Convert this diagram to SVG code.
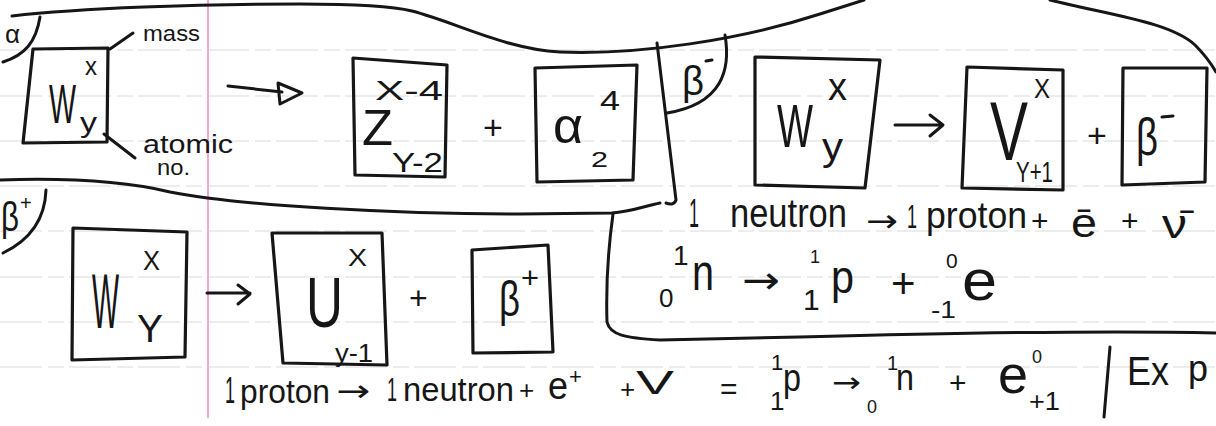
<svg xmlns="http://www.w3.org/2000/svg" width="1216" height="426" viewBox="0 0 1216 426">
<style>
.ink{fill:none;stroke:#161616;stroke-width:3;stroke-linecap:round;stroke-linejoin:round}
.box{fill:none;stroke:#161616;stroke-width:3.2;stroke-linejoin:round}
.t{font-family:"Liberation Sans",Arial,sans-serif;fill:#161616}
.a{font-family:"DejaVu Sans",sans-serif;fill:#161616}
.rule{stroke:#dadada;stroke-width:1;stroke-dasharray:42 6 16 5}
.margin{stroke:#f2a9cf;stroke-width:2}
</style>
<rect width="1216" height="426" fill="#ffffff"/>
<g id="paper">
<line class="rule" x1="0" y1="50" x2="1216" y2="50"/>
<line class="rule" x1="0" y1="96" x2="1216" y2="96"/>
<line class="rule" x1="0" y1="141" x2="1216" y2="141"/>
<line class="rule" x1="0" y1="186" x2="1216" y2="186"/>
<line class="rule" x1="0" y1="231" x2="1216" y2="231"/>
<line class="rule" x1="0" y1="277" x2="1216" y2="277"/>
<line class="rule" x1="0" y1="322" x2="1216" y2="322"/>
<line class="rule" x1="0" y1="367" x2="1216" y2="367"/>
<line class="margin" x1="208" y1="0" x2="208" y2="418"/>
</g>
<g id="dividers">
<path class="ink" d="M12,16 C80,8 200,4 300,4 C360,4 392,6 412,11 C455,22 505,49 560,52 C640,55 740,40 820,14 L864,0"/>
<path class="ink" d="M1050,0 C1110,15 1170,22 1195,45 Q1208,58 1216,72"/>
<path class="ink" d="M0,180 C60,178 120,180 170,192 C240,206 400,214 520,214 L612,213 C630,212 645,206 660,203"/>
<path class="ink" d="M657,43 L676,200 Q674,206 666,203"/>
<path class="ink" d="M613,214 C608,250 606,290 607,322 C610,335 625,338 660,340 L800,337 C950,333 1100,330 1216,333"/>
<path class="ink" d="M1110,347 L1104,417"/>
</g>
<g id="connectors">
<path class="ink" d="M228,86 L282,92"/>
<path class="ink" d="M278,83 L302,93 L280,104 Z"/>
<path class="ink" d="M895,125 L942,125 M930,115 L943,125 L930,136"/>
<path class="ink" d="M207,293 L250,293 M238,285 L250,294 L238,304"/>
</g>
<g id="alpha-label">
<text class="t" x="5" y="43" font-size="26">α</text>
<path class="ink" d="M40,17 C36,42 25,55 3,62"/>
</g>
<g id="box-W-alpha">
<polygon class="box" points="33,49 108,48 107,142 23,143"/>
<text class="t" x="49" y="123" font-size="56" textLength="27" lengthAdjust="spacingAndGlyphs">W</text>
<text class="t" x="85" y="75" font-size="25" textLength="12" lengthAdjust="spacingAndGlyphs">x</text>
<text class="t" x="80" y="132" font-size="28" textLength="17" lengthAdjust="spacingAndGlyphs">y</text>
<path class="ink" d="M110,49 L133,33 M104,134 L135,158"/>
<text class="t" x="143" y="41" font-size="22" textLength="57" lengthAdjust="spacingAndGlyphs">mass</text>
<text class="t" x="143" y="153" font-size="25" textLength="90" lengthAdjust="spacingAndGlyphs">atomic</text>
<text class="t" x="157" y="175" font-size="22" textLength="33" lengthAdjust="spacingAndGlyphs">no.</text>
</g>
<g id="box-Z">
<polygon class="box" points="353,58 447,65 445,177 355,175"/>
<text class="t" x="362" y="145" font-size="50" textLength="31" lengthAdjust="spacingAndGlyphs">Z</text>
<text class="t" x="375" y="100" font-size="27" textLength="68" lengthAdjust="spacingAndGlyphs">X-4</text>
<text class="t" x="392" y="172" font-size="28" textLength="51" lengthAdjust="spacingAndGlyphs">Y-2</text>
</g>
<text class="t" x="483" y="139" font-size="34">+</text>
<g id="box-alpha">
<polygon class="box" points="535,68 637,65 633,180 537,182"/>
<text class="t" x="553" y="143" font-size="50" textLength="30" lengthAdjust="spacingAndGlyphs">α</text>
<text class="t" x="600" y="110" font-size="28" textLength="20" lengthAdjust="spacingAndGlyphs">4</text>
<text class="t" x="591" y="167" font-size="22" textLength="17" lengthAdjust="spacingAndGlyphs">2</text>
</g>
<g id="beta-minus-label">
<path class="ink" d="M725,35 C731,70 722,104 667,113"/>
<text class="t" x="682" y="95" font-size="40" textLength="22" lengthAdjust="spacingAndGlyphs">β</text>
<path class="ink" d="M706,61 L712,60"/>
</g>
<g id="box-W-betaminus">
<polygon class="box" points="755,57 880,60 865,188 755,185"/>
<text class="t" x="777" y="147" font-size="62" textLength="36" lengthAdjust="spacingAndGlyphs">W</text>
<text class="t" x="828" y="100" font-size="38" textLength="19" lengthAdjust="spacingAndGlyphs">x</text>
<text class="t" x="822" y="160" font-size="38" textLength="21" lengthAdjust="spacingAndGlyphs">y</text>
</g>
<g id="box-V">
<polygon class="box" points="967,67 1063,70 1063,190 962,188"/>
<text class="t" x="990" y="160" font-size="84" textLength="38" lengthAdjust="spacingAndGlyphs">V</text>
<text class="t" x="1034" y="98" font-size="28" textLength="16" lengthAdjust="spacingAndGlyphs">X</text>
<text class="t" x="1016" y="182" font-size="30" textLength="37" lengthAdjust="spacingAndGlyphs">Y+1</text>
</g>
<text class="t" x="1087" y="147" font-size="34">+</text>
<g id="box-betaminus">
<polygon class="box" points="1123,68 1207,68 1205,182 1122,185"/>
<text class="t" x="1136" y="155" font-size="52" textLength="22" lengthAdjust="spacingAndGlyphs">β</text>
<path class="ink" d="M1162,117 L1173,116"/>
</g>
<g id="beta-plus-label">
<text class="t" x="1" y="231" font-size="40" textLength="18" lengthAdjust="spacingAndGlyphs">β</text>
<text class="t" x="20" y="210" font-size="20">+</text>
<path class="ink" d="M46,190 C45,220 30,240 3,253"/>
</g>
<g id="box-W-betaplus">
<polygon class="box" points="73,228 187,232 185,357 72,360"/>
<text class="t" x="92" y="328" font-size="78" textLength="27" lengthAdjust="spacingAndGlyphs">W</text>
<text class="t" x="143" y="270" font-size="28" textLength="17" lengthAdjust="spacingAndGlyphs">X</text>
<text class="t" x="137" y="342" font-size="38" textLength="26" lengthAdjust="spacingAndGlyphs">Y</text>
</g>
<g id="box-U">
<polygon class="box" points="272,233 382,233 387,365 283,363"/>
<text class="t" x="306" y="327" font-size="70" textLength="37" lengthAdjust="spacingAndGlyphs">U</text>
<text class="t" x="348" y="266" font-size="24" textLength="19" lengthAdjust="spacingAndGlyphs">X</text>
<text class="t" x="335" y="362" font-size="26" textLength="38" lengthAdjust="spacingAndGlyphs">y-1</text>
</g>
<text class="t" x="409" y="309" font-size="32">+</text>
<g id="box-betaplus">
<polygon class="box" points="472,250 548,245 553,352 473,353"/>
<text class="t" x="499" y="316" font-size="50" textLength="21" lengthAdjust="spacingAndGlyphs">β</text>
<text class="t" x="521" y="288" font-size="30" textLength="18" lengthAdjust="spacingAndGlyphs">+</text>
</g>
<g id="neutron-eq">
<text class="t" x="689" y="227" font-size="40" textLength="10" lengthAdjust="spacingAndGlyphs">1</text>
<text class="t" x="730" y="227" font-size="40" textLength="117" lengthAdjust="spacingAndGlyphs">neutron</text>
<text class="a" x="866" y="232" font-size="32" textLength="32" lengthAdjust="spacingAndGlyphs">→</text>
<text class="t" x="907" y="228" font-size="34" textLength="10" lengthAdjust="spacingAndGlyphs">1</text>
<text class="t" x="926" y="228" font-size="36" textLength="101" lengthAdjust="spacingAndGlyphs">proton</text>
<text class="t" x="1031" y="231" font-size="30">+</text>
<text class="t" x="1071" y="237" font-size="40" textLength="26" lengthAdjust="spacingAndGlyphs">ē</text>
<text class="t" x="1121" y="231" font-size="30">+</text>
<text class="t" x="1162" y="238" font-size="40" textLength="25" lengthAdjust="spacingAndGlyphs">ν̄</text>
<text class="t" x="673" y="265" font-size="28">1</text>
<text class="t" x="659" y="307" font-size="26">0</text>
<text class="t" x="692" y="290" font-size="52" textLength="22" lengthAdjust="spacingAndGlyphs">n</text>
<text class="a" x="742" y="293" font-size="38" textLength="38" lengthAdjust="spacingAndGlyphs">→</text>
<text class="t" x="803" y="310" font-size="30">1</text>
<text class="t" x="810" y="263" font-size="18">1</text>
<text class="t" x="831" y="293" font-size="46" textLength="23" lengthAdjust="spacingAndGlyphs">p</text>
<text class="t" x="891" y="298" font-size="42">+</text>
<text class="t" x="946" y="268" font-size="21">0</text>
<text class="t" x="931" y="318" font-size="24" textLength="25" lengthAdjust="spacingAndGlyphs">-1</text>
<text class="t" x="962" y="300" font-size="58" textLength="35" lengthAdjust="spacingAndGlyphs">e</text>
</g>
<g id="proton-eq">
<text class="t" x="225" y="403" font-size="36" textLength="10" lengthAdjust="spacingAndGlyphs">1</text>
<text class="t" x="240" y="403" font-size="34" textLength="90" lengthAdjust="spacingAndGlyphs">proton</text>
<text class="a" x="336" y="401" font-size="30" textLength="34" lengthAdjust="spacingAndGlyphs">→</text>
<text class="t" x="387" y="401" font-size="34" textLength="10" lengthAdjust="spacingAndGlyphs">1</text>
<text class="t" x="403" y="401" font-size="34" textLength="111" lengthAdjust="spacingAndGlyphs">neutron</text>
<text class="t" x="519" y="399" font-size="26">+</text>
<text class="t" x="548" y="399" font-size="38" textLength="20" lengthAdjust="spacingAndGlyphs">e</text>
<text class="t" x="569" y="384" font-size="22">+</text>
<text class="t" x="620" y="398" font-size="26">+</text>
<text class="t" x="636" y="394" font-size="34" textLength="38" lengthAdjust="spacingAndGlyphs">V</text>
<text class="t" x="720" y="399" font-size="30">=</text>
<text class="t" x="771" y="370" font-size="22">1</text>
<text class="t" x="770" y="410" font-size="26">1</text>
<text class="t" x="783" y="391" font-size="38" textLength="18" lengthAdjust="spacingAndGlyphs">p</text>
<text class="a" x="832" y="392" font-size="28" textLength="29" lengthAdjust="spacingAndGlyphs">→</text>
<text class="t" x="867" y="413" font-size="18">0</text>
<text class="t" x="887" y="370" font-size="20">1</text>
<text class="t" x="896" y="390" font-size="36" textLength="18" lengthAdjust="spacingAndGlyphs">n</text>
<text class="t" x="949" y="393" font-size="30">+</text>
<text class="t" x="998" y="393" font-size="54" textLength="30" lengthAdjust="spacingAndGlyphs">e</text>
<text class="t" x="1032" y="363" font-size="18">0</text>
<text class="t" x="1029" y="410" font-size="26" textLength="31" lengthAdjust="spacingAndGlyphs">+1</text>
<text class="t" x="1127" y="385" font-size="40" textLength="42" lengthAdjust="spacingAndGlyphs">Ex</text>
<text class="t" x="1188" y="381" font-size="36" textLength="20" lengthAdjust="spacingAndGlyphs">p</text>
</g>
</svg>
